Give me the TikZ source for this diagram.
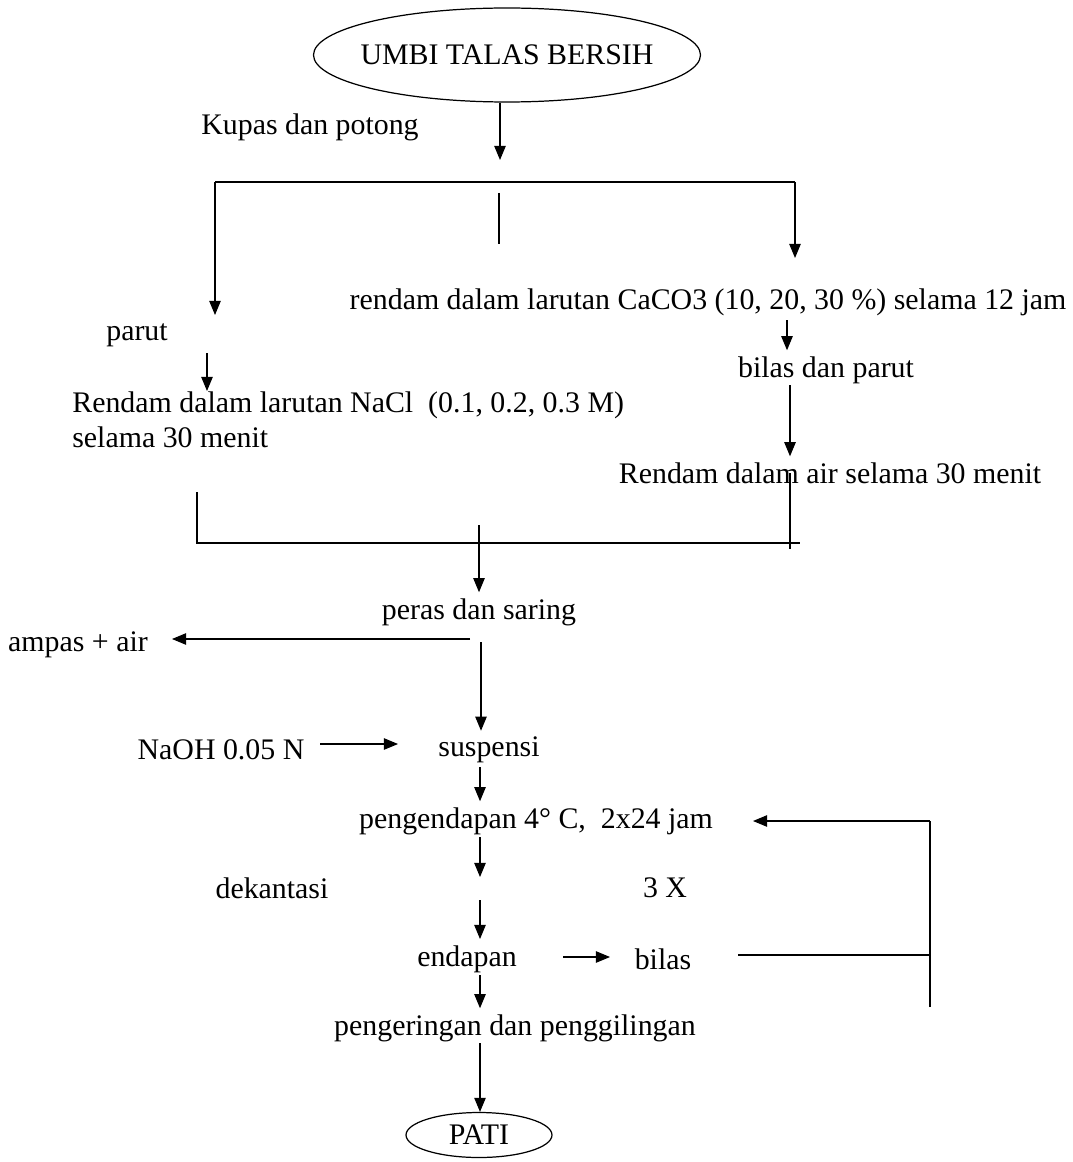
\documentclass[tikz,border=0pt]{standalone}
\usepackage{fontspec}
\setmainfont{Liberation Serif}
\usetikzlibrary{shapes.geometric,arrows.meta}

\begin{document}
\begin{tikzpicture}[x=0.02cm,y=-0.02cm,
    font=\fontsize{17}{20}\selectfont,
    oval/.style={draw,ellipse,line width=0.7pt,inner sep=0pt},
    arr/.style={-{Triangle[length=8pt,width=6.5pt]},line width=0.6pt},
    ln/.style={line width=1pt}]
    \useasboundingbox (0,0) rectangle (1072,1162);

    %start
    \node[oval,inner xsep=-5.5pt,minimum width=7.68cm,minimum height=1.88cm] (umbi) at (507,55) {UMBI TALAS BERSIH};
    \node (kupas) at (310,127) {Kupas dan potong};
    \coordinate (k1) at (500,160);
    \draw[arr] (umbi.south -| k1) -- (k1);

    %split
    \coordinate (sl) at (215,182);
    \coordinate (sr) at (795,182);
    \coordinate (m1) at (499,193);
    \coordinate (m2) at (499,244);
    \coordinate (lt) at (215,315);
    \coordinate (rt) at (795,258);
    \draw[ln] (sl) -- (sr);
    \draw[ln] (m1) -- (m2);
    \draw[arr] (sl) -- (lt);
    \draw[arr] (sr) -- (rt);

    %left branch
    \node (parut) at (137,335) {parut};
    \node[anchor=north west,align=left,inner sep=0pt] (nacl) at (72,391) {Rendam dalam larutan NaCl\ \ (0.1, 0.2, 0.3 M)\\selama 30 menit};
    \coordinate (p1) at (207,353);
    \draw[arr] (p1) -- (p1 |- nacl.north);

    %right branch
    \node (caco) at (708,302) {rendam dalam larutan CaCO3 (10, 20, 30 \%) selama 12 jam};
    \node (bilas1) at (826,370) {bilas dan parut};
    \node (air) at (830,473) {Rendam dalam air selama 30 menit};
    \coordinate (r1) at (787,320);
    \coordinate (r2) at (790,385);
    \draw[arr] (r1) -- (r1 |- bilas1.north);
    \draw[arr] (r2) -- (r2 |- air.north);

    %join
    \coordinate (jl0) at (197,492);
    \coordinate (jl) at (197,543);
    \coordinate (jr) at (800,543);
    \coordinate (jr1) at (790,549);
    \draw[ln] (jl0) -- (jl) -- (jr);
    \draw[ln] (r2 |- air.center) -- (jr1);
    \coordinate (j1) at (479,525);

    %main line
    \node (peras) at (479,612) {peras dan saring};
    \node (ampas) at (78,645) {ampas + air};
    \node (naoh) at (221,750) {NaOH 0.05 N};
    \node (susp) at (489,750) {suspensi};
    \node (endap) at (536,821) {pengendapan 4° C,\ \ 2x24 jam};
    \node (dekan) at (272,888) {dekantasi};
    \node (tiga) at (665,888) {3 X};
    \node (endapan) at (467,959) {endapan};
    \node (bilas2) at (663,959) {bilas};
    \node (kering) at (515,1028) {pengeringan dan penggilingan};
    \node[oval,minimum width=2.92cm,minimum height=0.9cm] (pati) at (479,1135) {PATI};

    \coordinate (a1) at (470,639);
    \coordinate (a2) at (172,639);
    \coordinate (c1) at (481,642);
    \coordinate (n1) at (320,744);
    \coordinate (n2) at (398,744);
    \coordinate (c2) at (480,767);
    \coordinate (c3) at (480,837);
    \coordinate (c3e) at (480,877);
    \coordinate (c4) at (480,900);
    \coordinate (c5) at (480,939);
    \coordinate (b1) at (563,957);
    \coordinate (b2) at (610,957);
    \coordinate (c6) at (480,975);
    \coordinate (c7) at (480,1043);
    \coordinate (f1) at (738,955);
    \coordinate (f2) at (930,955);
    \coordinate (f3) at (930,821);
    \coordinate (f4) at (930,1007);
    \coordinate (f5) at (753,821);

    \draw[arr] (j1) -- (j1 |- peras.north);
    \draw[arr] (a1) -- (a2);
    \draw[arr] (c1) -- (c1 |- susp.north);
    \draw[arr] (n1) -- (n2);
    \draw[arr] (c2) -- (c2 |- endap.north);
    \draw[arr] (c3) -- (c3e);
    \draw[arr] (c4) -- (c5);
    \draw[arr] (b1) -- (b2);
    \draw[arr] (c6) -- (c6 |- kering.north);
    \draw[arr] (c7) -- (c7 |- pati.north);

    %loop back
    \draw[ln] (f1) -- (f2);
    \draw[ln] (f4) -- (f3);
    \draw[arr] (f3) -- (f5);
\end{tikzpicture}
\end{document}
